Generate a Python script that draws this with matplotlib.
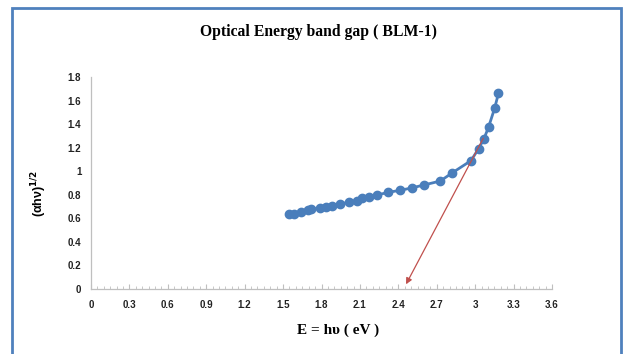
import matplotlib
matplotlib.use("Agg")
import matplotlib.pyplot as plt
from matplotlib.patches import Rectangle
from matplotlib.ticker import MultipleLocator

# Photon energy (eV) and (alpha h nu)^(1/2)
energy = [1.546, 1.588, 1.637, 1.692, 1.720, 1.788, 1.833, 1.882, 1.947, 2.012,
          2.077, 2.119, 2.168, 2.233, 2.322, 2.413, 2.504, 2.598, 2.728, 2.816,
          2.967, 3.027, 3.069, 3.105, 3.152, 3.182]
tauc = [0.635, 0.640, 0.652, 0.669, 0.678, 0.689, 0.700, 0.706, 0.723, 0.737,
        0.751, 0.774, 0.782, 0.799, 0.822, 0.839, 0.859, 0.884, 0.918, 0.984,
        1.091, 1.193, 1.278, 1.378, 1.537, 1.664]

# Extrapolation of the linear region down to the energy axis
fit_start = (3.063, 1.281)
fit_end = (2.46, 0.04)

x_ticks = [0, 0.3, 0.6, 0.9, 1.2, 1.5, 1.8, 2.1, 2.4, 2.7, 3.0, 3.3, 3.6]
x_tick_labels = ["0", "0.3", "0.6", "0.9", "1.2", "1.5", "1.8", "2.1", "2.4", "2.7", "3", "3.3", "3.6"]
y_ticks = [0, 0.2, 0.4, 0.6, 0.8, 1.0, 1.2, 1.4, 1.6, 1.8]
y_tick_labels = ["0", "0.2", "0.4", "0.6", "0.8", "1", "1.2", "1.4", "1.6", "1.8"]

W, H = 626, 354
fig = plt.figure(figsize=(W / 100, H / 100), dpi=100)
fig.patch.set_facecolor("white")

# Outer chart frame
frame = Rectangle((12 / W, -0.05), (621 - 12) / W, 1.05 - 8 / H,
                  transform=fig.transFigure, fill=False,
                  edgecolor="#4f81bd", linewidth=2.0)
fig.patches.append(frame)

ax = fig.add_axes([91 / W, 1 - 289 / H, (552 - 91) / W, (289 - 77.3) / H])
ax.plot(energy, tauc, color="#4a7ebb", linewidth=2.0, marker="o",
        markersize=6, markerfacecolor="#4a7ebb", markeredgecolor="#4a7ebb",
        zorder=3)
ax.annotate("", xy=fit_end, xytext=fit_start,
            arrowprops=dict(arrowstyle="-|>", color="#c0504d", lw=0.9,
                            mutation_scale=9, shrinkA=0, shrinkB=0),
            zorder=4)

ax.set_xlim(0, 3.6)
ax.set_ylim(0, 1.8)
ax.set_xticks(x_ticks)
ax.set_xticklabels(x_tick_labels)
ax.set_yticks(y_ticks)
ax.set_yticklabels(y_tick_labels)
ax.xaxis.set_minor_locator(MultipleLocator(0.05))

for side in ("top", "right"):
    ax.spines[side].set_visible(False)
for side in ("left", "bottom"):
    ax.spines[side].set_color("#bfbfbf")
    ax.spines[side].set_linewidth(0.9)

ax.tick_params(axis="x", which="major", direction="in", length=3.5,
               color="#bfbfbf", pad=8, labelcolor="#222222")
ax.tick_params(axis="x", which="minor", direction="in", length=2,
               color="#bfbfbf")
ax.tick_params(axis="y", which="major", length=0, pad=7, labelcolor="#222222")
for lbl in ax.get_xticklabels() + ax.get_yticklabels():
    lbl.set_fontfamily("Liberation Sans")
    lbl.set_fontsize(7)
    lbl.set_fontweight("bold")

fig.text(319 / W, 1 - 32 / H, "Optical Energy band gap ( BLM-1)",
         ha="center", va="center", family="Liberation Serif",
         fontsize=11.3, fontweight="bold")
fig.text(338 / W, 1 - 330 / H, "E = h\u03c5 ( eV )",
         ha="center", va="center", family="Liberation Serif",
         fontsize=11, fontweight="bold")
fig.text(39 / W, 1 - 193 / H, "(\u03b1h\u03bd)$^{\\mathbf{1/2}}$",
         ha="center", va="center", rotation=90, family="Liberation Sans",
         fontsize=9, fontweight="bold")

fig.savefig("out.png", dpi=100, facecolor="white")
